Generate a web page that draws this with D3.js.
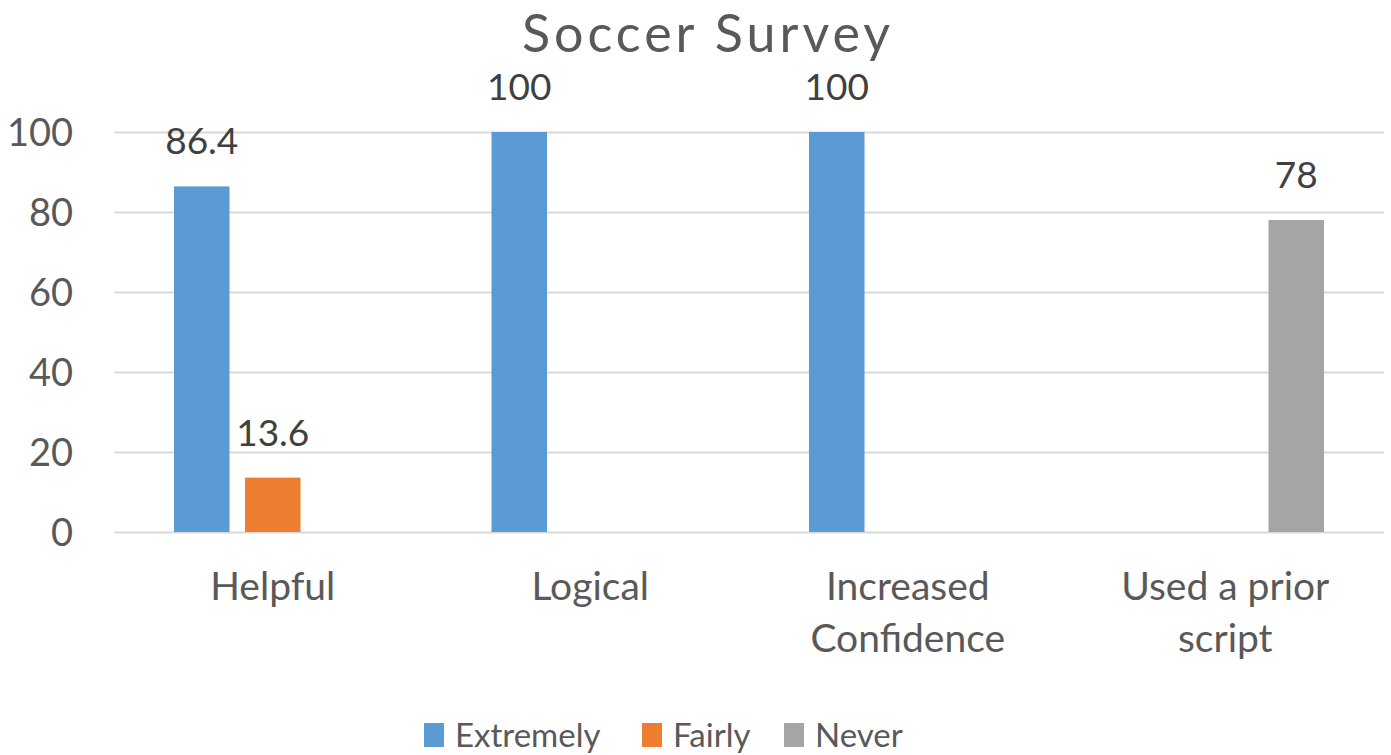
<!DOCTYPE html>
<html>
<head>
<meta charset="utf-8">
<script src="https://cdn.jsdelivr.net/npm/d3@7"></script>
<style>
  html, body { margin: 0; padding: 0; background: #fff; }
  svg { display: block; font-family: Lato, "Open Sans", sans-serif; }
</style>
</head>
<body>
<svg id="chart" width="1391" height="755"></svg>
<script>
// Survey answers, percent of respondents
const categories = ["Helpful", "Logical", "Increased\nConfidence", "Used a prior\nscript"];
const seriesNames = ["Extremely", "Fairly", "Never"];
const extremely = [86.4, 100, 100, null];
const fairly = [13.6, null, null, null];
const never = [null, null, null, 78];
const yTicks = [0, 20, 40, 60, 80, 100];
const colors = ["#5B9BD5", "#ED7D31", "#A5A5A5"];

const seriesValues = [extremely, fairly, never];
const rows = [];
categories.forEach((c, i) => {
  seriesNames.forEach((s, j) => {
    rows.push({ category: c, series: s, value: seriesValues[j][i], color: colors[j] });
  });
});

const svg = d3.select("#chart");
const plot = { left: 114, right: 1384, top: 132, bottom: 532 };

const x0 = d3.scaleBand().domain(categories).range([plot.left, plot.right]);
const x1 = d3.scaleBand().domain(seriesNames)
  .range([0, x0.bandwidth()])
  .paddingInner(0.218)
  .paddingOuter(0.845);
const y = d3.scaleLinear().domain([0, 100]).range([plot.bottom, plot.top]);

// Horizontal gridlines and value axis labels
const yAxis = d3.axisLeft(y).tickValues(yTicks).tickSize(-(plot.right - plot.left)).tickPadding(41);
const gy = svg.append("g").attr("transform", `translate(${plot.left},0)`).call(yAxis);
gy.select(".domain").remove();
gy.selectAll(".tick line").attr("stroke", "#d9d9d9").attr("stroke-width", 2);
gy.selectAll(".tick text")
  .attr("fill", "#595959")
  .attr("font-size", 38)
  .attr("font-family", "Lato, sans-serif")
  .attr("dy", "0.36em");

// Bars
const bars = rows.filter(d => d.value != null);
svg.append("g").selectAll("rect").data(bars).join("rect")
  .attr("x", d => x0(d.category) + x1(d.series))
  .attr("width", x1.bandwidth())
  .attr("y", d => y(d.value))
  .attr("height", d => y(0) - y(d.value))
  .attr("fill", d => d.color);

// Value labels
svg.append("g").selectAll("text").data(bars).join("text")
  .attr("x", d => x0(d.category) + x1(d.series) + x1.bandwidth() / 2)
  .attr("y", d => y(d.value) - 32)
  .attr("text-anchor", "middle")
  .attr("fill", "#404040")
  .attr("font-size", 37)
  .text(d => d.value);

// Category labels
const xAxis = d3.axisBottom(x0).tickSize(0).tickFormat("");
const gx = svg.append("g").attr("transform", `translate(0,${plot.bottom})`).call(xAxis);
gx.select(".domain").remove();
gx.selectAll(".tick").each(function (d) {
  const t = d3.select(this).append("text")
    .attr("text-anchor", "middle")
    .attr("fill", "#595959")
    .attr("font-size", 39)
    .attr("font-family", "Lato, sans-serif");
  d.split("\n").forEach((line, i) => {
    t.append("tspan").attr("x", 0).attr("y", 68 + i * 52).text(line);
  });
});

// Title
svg.append("text")
  .attr("x", 708)
  .attr("y", 52)
  .attr("text-anchor", "middle")
  .attr("fill", "#595959")
  .attr("font-size", 52)
  .attr("letter-spacing", 4)
  .text("Soccer Survey");

// Legend
const legendX = [424, 642, 784];
const legend = svg.append("g").selectAll("g").data(seriesNames).join("g")
  .attr("transform", (d, i) => `translate(${legendX[i]},0)`);
legend.append("rect")
  .attr("x", 0).attr("y", 723).attr("width", 20).attr("height", 24)
  .attr("fill", (d, i) => colors[i]);
legend.append("text")
  .attr("x", 31).attr("y", 747)
  .attr("fill", "#595959")
  .attr("font-size", 33)
  .text(d => d);
</script>
</body>
</html>
